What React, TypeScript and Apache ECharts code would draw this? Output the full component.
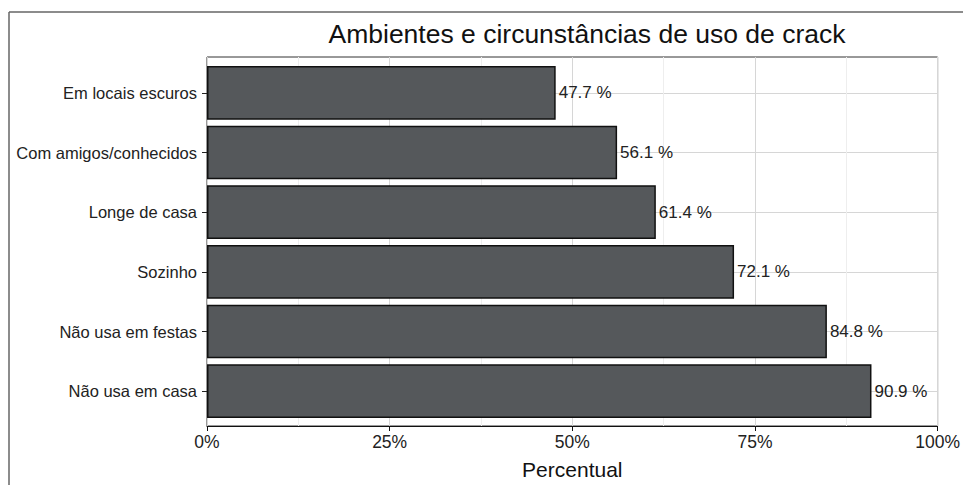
import React, { useEffect, useRef } from "react";
import * as echarts from "echarts";

const categories = [
  "Em locais escuros",
  "Com amigos/conhecidos",
  "Longe de casa",
  "Sozinho",
  "Não usa em festas",
  "Não usa em casa",
];
const values = [47.7, 56.1, 61.4, 72.1, 84.8, 90.9];
const titleText = "Ambientes e circunstâncias de uso de crack";
const xAxisTitle = "Percentual";

const FONT = "'Liberation Sans', Arial, Helvetica, sans-serif";

export default function App() {
  const ref = useRef<HTMLDivElement>(null);
  useEffect(() => {
    document.body.style.margin = "0";
    if (!ref.current) return;
    const chart = echarts.init(ref.current, null, { renderer: "svg" });
    chart.setOption({
      animation: false,
      backgroundColor: "#ffffff",
      textStyle: { fontFamily: FONT },
      title: {
        text: titleText,
        left: 582,
        top: 15,
        textAlign: "center",
        textStyle: { fontSize: 26.5, fontWeight: "normal", color: "#111", fontFamily: FONT },
      },
      graphic: [
        { type: "line", shape: { x1: 9, y1: 12, x2: 963, y2: 12 }, style: { stroke: "#666", lineWidth: 1.5 } },
        { type: "line", shape: { x1: 9, y1: 12, x2: 9, y2: 485 }, style: { stroke: "#666", lineWidth: 1.5 } },
      ],
      grid: [
        { left: 207, top: 57, width: 731, height: 370, show: true, borderColor: "#333", borderWidth: 1, backgroundColor: "#fff", containLabel: false },
        { left: 207, top: 63, width: 731, height: 358, containLabel: false },
      ],
      xAxis: [
        {
          type: "value",
          gridIndex: 0,
          min: 0,
          max: 100,
          interval: 25,
          name: xAxisTitle,
          nameLocation: "middle",
          nameGap: 33,
          nameTextStyle: { fontSize: 21, color: "#111", fontFamily: FONT },
          axisLine: { show: true, lineStyle: { color: "#111", width: 1 } },
          axisTick: { show: true, length: 5, lineStyle: { color: "#111" } },
          axisLabel: { formatter: "{value}%", fontSize: 17.5, color: "#222", margin: 7, fontFamily: FONT },
          splitLine: { show: true, lineStyle: { color: "#d6d6d6", width: 1 } },
          minorTick: { show: false, splitNumber: 2 },
          minorSplitLine: { show: true, lineStyle: { color: "#eeeeee", width: 1 } },
        },
        {
          type: "value",
          gridIndex: 1,
          min: 0,
          max: 100,
          show: false,
        },
      ],
      yAxis: [
        { type: "value", gridIndex: 0, show: false, min: 0, max: 1 },
        {
          type: "category",
          gridIndex: 1,
          data: categories,
          inverse: true,
          axisLine: { show: false },
          axisTick: { show: true, length: 5, alignWithLabel: true, lineStyle: { color: "#222" } },
          axisLabel: { fontSize: 16.5, color: "#222", margin: 10, fontFamily: FONT },
          splitLine: { show: true, alignWithLabel: true, lineStyle: { color: "#d6d6d6", width: 1 } },
        },
      ],
      series: [
        {
          type: "bar",
          xAxisIndex: 1,
          yAxisIndex: 1,
          data: values,
          barWidth: "90%",
          itemStyle: { color: "#55585b", borderColor: "#111", borderWidth: 1.5 },
          label: {
            show: true,
            position: "right",
            distance: 3,
            formatter: (p: any) => `${p.value} %`,
            fontSize: 17,
            color: "#222",
            fontFamily: FONT,
          },
        },
      ],
    });
    return () => chart.dispose();
  }, []);
  return <div ref={ref} style={{ width: 963, height: 485 }} />;
}
